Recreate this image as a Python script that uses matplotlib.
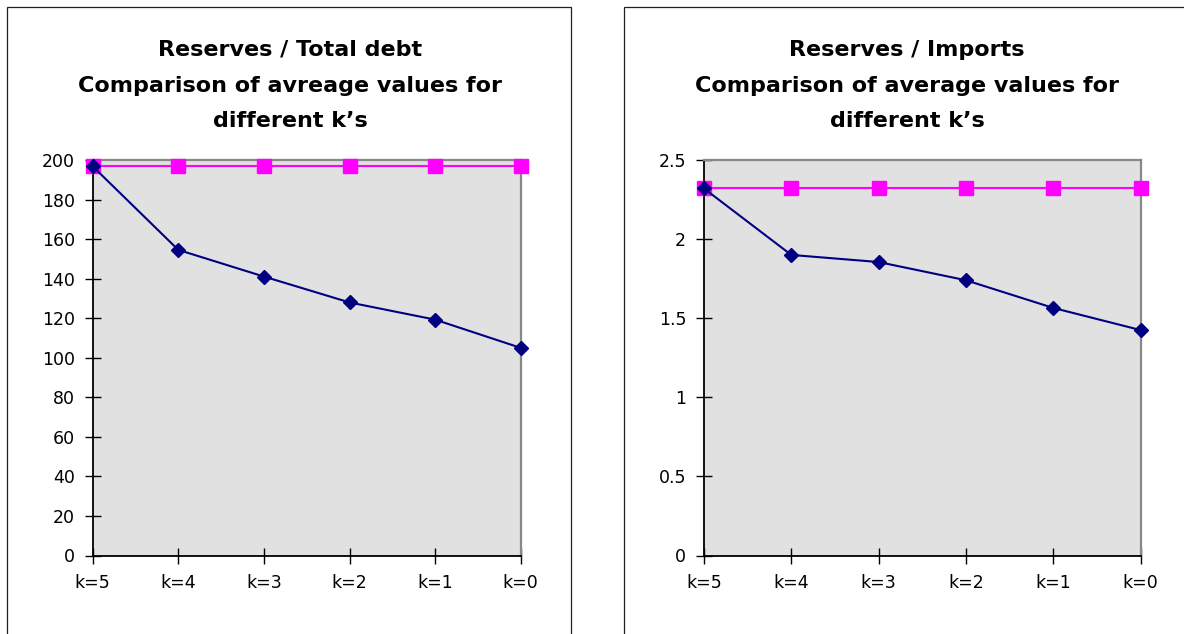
import matplotlib
matplotlib.use("Agg")
import matplotlib.pyplot as plt
from matplotlib.patches import Rectangle
from matplotlib.ticker import FuncFormatter

# ---- data ----
categories = ["k=5", "k=4", "k=3", "k=2", "k=1", "k=0"]

debt_title = ["Reserves / Total debt", "Comparison of avreage values for", "different k\u2019s"]
debt_avg = [197, 154.7, 141.2, 128.1, 119.4, 105.1]
debt_ref = [197.3, 197.3, 197.3, 197.3, 197.3, 197.3]
debt_yticks = [0, 20, 40, 60, 80, 100, 120, 140, 160, 180, 200]

imp_title = ["Reserves / Imports", "Comparison of average values for", "different k\u2019s"]
imp_avg = [2.32, 1.90, 1.855, 1.74, 1.565, 1.425]
imp_ref = [2.32, 2.32, 2.32, 2.32, 2.32, 2.32]
imp_yticks = [0, 0.5, 1, 1.5, 2, 2.5]

W, H = 1184, 634
plt.rcParams['font.family'] = ['DejaVu Sans']
fig = plt.figure(figsize=(W / 100, H / 100), dpi=100)

def px_rect(x0, y_top, x1, y_bot):
    return [x0 / W, 1 - y_bot / H, (x1 - x0) / W, (y_bot - y_top) / H]

# panel borders
for (x0, x1) in [(7, 571), (624, 1200)]:
    fig.patches.append(Rectangle((x0 / W, -0.05), (x1 - x0) / W, 1.05 - 7 / H,
                                 transform=fig.transFigure, fill=False,
                                 edgecolor='#202020', linewidth=0.9))

def make_panel(rect, avg, ref, yticks, title_lines, title_x):
    ax = fig.add_axes(rect)
    x = list(range(len(categories)))
    ax.set_facecolor('#E1E1E1')
    ax.plot(x, ref, color='#FF00FF', lw=1.5, marker='s', ms=9.5,
            mec='#FF00FF', mfc='#FF00FF', clip_on=False, zorder=3)
    ax.plot(x, avg, color='#000080', lw=1.5, marker='D', ms=7,
            mec='#000080', mfc='#000080', clip_on=False, zorder=4)
    ax.set_xlim(0, len(categories) - 1)
    ax.set_ylim(yticks[0], yticks[-1])
    ax.set_xticks(x)
    ax.set_xticklabels(categories)
    ax.set_yticks(yticks)
    ax.yaxis.set_major_formatter(FuncFormatter(lambda v, p: f"{v:g}"))
    ax.tick_params(axis='both', direction='inout', length=11, width=1,
                   color='black', labelsize=12.5, labelcolor='black')
    ax.tick_params(axis='y', pad=7.3)
    ax.tick_params(axis='x', pad=8)
    for s in ['top', 'right']:
        ax.spines[s].set_color('#888888')
        ax.spines[s].set_linewidth(1.6)
    for s in ['left', 'bottom']:
        ax.spines[s].set_color('black')
        ax.spines[s].set_linewidth(1.3)
    for ln, yb in zip(title_lines, [55.5, 91.5, 127.0]):
        fig.text(title_x / W, 1 - yb / H, ln, ha='center', va='baseline',
                 fontsize=16, fontweight='bold', color='black')
    return ax

make_panel(px_rect(92.7, 160.4, 520.7, 555.5), debt_avg, debt_ref,
           debt_yticks, debt_title, 290)
make_panel(px_rect(704, 160, 1140.5, 555.5), imp_avg, imp_ref,
           imp_yticks, imp_title, 907)

fig.savefig("out.png", dpi=100)
